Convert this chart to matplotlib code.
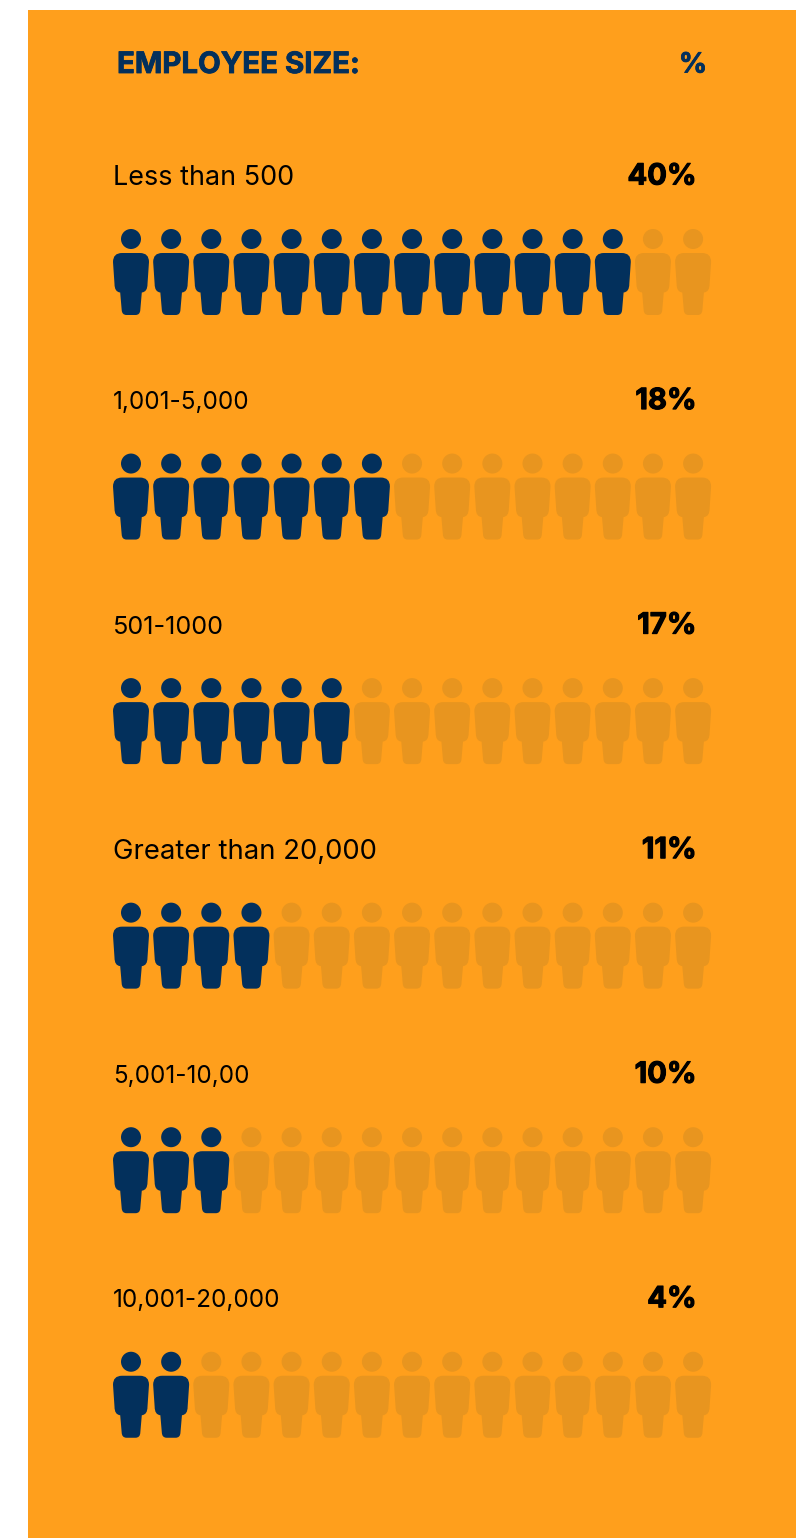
import matplotlib
matplotlib.use("Agg")
from matplotlib import pyplot as plt
from matplotlib import patheffects
from matplotlib.patches import Circle, PathPatch, Rectangle
from matplotlib.path import Path

plt.rcParams['font.family'] = ['Inter', 'DejaVu Sans']

# employee size buckets, ordered as in the survey table
categories = ["Less than 500", "1,001-5,000", "501-1000", "Greater than 20,000", "5,001-10,00", "10,001-20,000"]
percents = [40, 18, 17, 11, 10, 4]
filled_icons = [13, 7, 6, 4, 3, 2]
total_icons = 15

# digit-heavy labels run wide in this font, so they get a smaller size
label_sizes = [19.4, 17.5, 18.2, 19.75, 17.45, 17.5]

ORANGE = "#FF9F1C"
NAVY = "#03305C"
FADED = "#E8951F"

W, H = 806, 1538


def person_path(cx, top):
    # body and legs of one figure, cx is the middle, top is the shoulder line
    M, L, C = Path.MOVETO, Path.LINETO, Path.CURVE3
    pts = [
        (-9, 0), (0, 0), (9, 0),
        (18, 0), (18, 9),
        (16.5, 31), (16.5, 39), (10.8, 39.5),
        (9.3, 57), (9, 62), (4.5, 62),
        (-4.5, 62), (-9, 62), (-9.3, 57),
        (-10.8, 39.5), (-16.5, 39), (-16.5, 31),
        (-18, 9), (-18, 0), (-9, 0),
        (-9, 0),
    ]
    codes = [M, L, L,
             C, C,
             L, C, C,
             L, C, C,
             L, C, C,
             L, C, C,
             L, C, C,
             Path.CLOSEPOLY]
    return Path([(cx + x, top + y) for x, y in pts], codes)


def heavy(col, width):
    # Inter bold is lighter than the headline weight we want, thicken the outline
    return [patheffects.withStroke(linewidth=width, foreground=col)]


fig = plt.figure(figsize=(W / 100, H / 100), dpi=100, facecolor="white")
ax = fig.add_axes([0, 0, 1, 1])
ax.set_xlim(0, W)
ax.set_ylim(H, 0)
ax.axis("off")

ax.add_patch(Rectangle((28, 10), 768, H - 10, facecolor=ORANGE, edgecolor="none"))

ax.text(117, 65.5, "EMPLOYEE SIZE:", fontsize=21.2, fontweight="bold", color=NAVY, va="center", ha="left",
        path_effects=heavy(NAVY, 0.6))
ax.text(707, 65.5, "%", fontsize=20, fontweight="bold", color=NAVY, va="center", ha="right",
        path_effects=heavy(NAVY, 0.6))

for row, (name, pct, n, size) in enumerate(zip(categories, percents, filled_icons, label_sizes)):
    row_y = row * 224.55
    ax.text(113, 178 + row_y, name, fontsize=size, color="black", va="center", ha="left")
    ax.text(696.5, 177 + row_y, f"{pct}%", fontsize=21, fontweight="bold", color="black", va="center", ha="right",
            path_effects=heavy("black", 0.8))
    for i in range(total_icons):
        col = NAVY if i < n else FADED
        cx = 131 + i * 40.15
        ax.add_patch(Circle((cx, 239 + row_y), 10, facecolor=col, edgecolor="none"))
        ax.add_patch(PathPatch(person_path(cx, 253 + row_y), facecolor=col, edgecolor="none"))

fig.savefig("out.png", dpi=100)
